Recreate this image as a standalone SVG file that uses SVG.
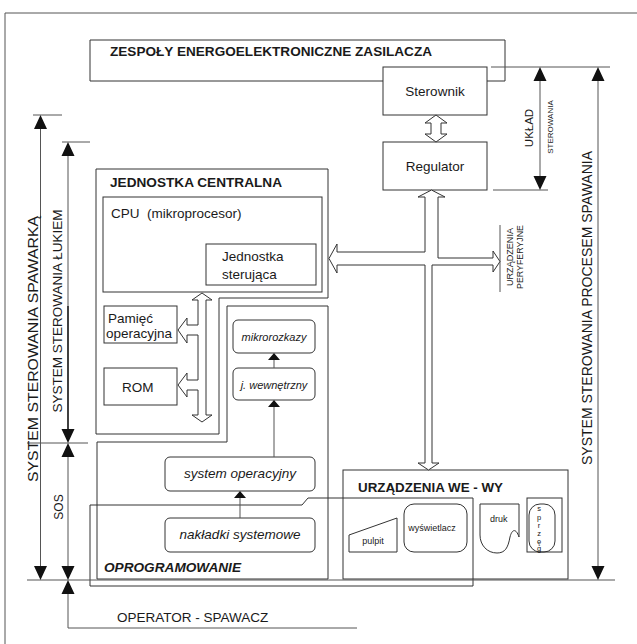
<svg xmlns="http://www.w3.org/2000/svg" width="637" height="644" viewBox="0 0 637 644">
<defs>
<style>
.box{fill:none;stroke:#333;stroke-width:1}
.wbox{fill:#fff;stroke:#333;stroke-width:1}
.ln{fill:none;stroke:#555;stroke-width:1}
.ah{fill:#111;stroke:none}
.hol{fill:#fff;stroke:#333;stroke-width:1;stroke-linejoin:miter}
text{font-family:"Liberation Sans",Arial,Helvetica,sans-serif;fill:#1a1a1a}
.t{font-size:13.5px}
.b{font-weight:bold;font-size:13.5px}
.i{font-style:italic}
.s{font-size:9px}
.xs{font-size:8.5px}
</style>
</defs>
<rect width="637" height="644" fill="#fff"/>
<path class="ln" d="M5,644 V13 H637"/>

<g id="zespoly">
<path class="box" d="M383,81 H90 V40 H505 V81 H487"/>
<text class="b" x="110" y="56" textLength="322" lengthAdjust="spacingAndGlyphs">ZESPOŁY ENERGOELEKTRONICZNE ZASILACZA</text>
</g>
<g id="sterownik">
<rect class="wbox" x="383" y="67" width="104" height="48"/>
<text class="t" x="435" y="96" text-anchor="middle">Sterownik</text>
</g>
<g id="regulator">
<rect class="wbox" x="383" y="142" width="104" height="48"/>
<text class="t" x="435" y="171" text-anchor="middle">Regulator</text>
</g>

<g id="jednostka-centralna">
<path class="box" d="M96,169 H328 V298 H219 V434 H96 Z"/>
<text class="b" x="110" y="187" textLength="172" lengthAdjust="spacingAndGlyphs">JEDNOSTKA CENTRALNA</text>
</g>
<g id="cpu">
<rect class="box" x="103" y="197" width="219" height="95"/>
<text class="t" x="111" y="218" xml:space="preserve">CPU  (mikroprocesor)</text>
</g>
<g id="jednostka-sterujaca">
<rect class="box" x="206" y="244" width="110" height="41"/>
<text class="t" x="222" y="261">Jednostka</text>
<text class="t" x="222" y="279">sterująca</text>
</g>
<g id="pamiec">
<rect class="box" x="104" y="306" width="73" height="37"/>
<text class="t" x="108" y="323">Pamięć</text>
<text class="t" x="106" y="338">operacyjna</text>
</g>
<g id="rom">
<rect class="box" x="104" y="368" width="73" height="37"/>
<text class="t" x="122" y="392">ROM</text>
</g>

<g id="oprogramowanie">
<path class="box" d="M97,442 H227 V306 H328 V579 H97 Z"/>
<text class="b i" x="104" y="572" textLength="137" lengthAdjust="spacingAndGlyphs">OPROGRAMOWANIE</text>
</g>
<g id="mikrorozkazy">
<rect class="box" x="233" y="320" width="82" height="33" rx="5"/>
<text class="i" x="274" y="341" text-anchor="middle" font-size="11">mikrorozkazy</text>
</g>
<g id="j-wewnetrzny">
<rect class="box" x="233" y="368" width="82" height="32" rx="5"/>
<text class="i" x="274" y="389" text-anchor="middle" font-size="11">j. wewnętrzny</text>
</g>
<g id="system-operacyjny">
<rect class="box" x="165" y="457" width="150" height="34" rx="5"/>
<text class="t i" x="240" y="478" text-anchor="middle">system operacyjny</text>
</g>
<g id="nakladki">
<rect class="box" x="165" y="518" width="150" height="34" rx="5"/>
<text class="t i" x="240" y="539" text-anchor="middle">nakładki systemowe</text>
</g>

<g id="urzadzenia-we-wy">
<rect class="box" x="343" y="470" width="225" height="109"/>
<text class="b" x="358" y="492" textLength="145" lengthAdjust="spacingAndGlyphs">URZĄDZENIA WE - WY</text>
</g>
<g id="pulpit">
<path class="box" d="M349,535 L397,518 V552 H349 Z"/>
<text class="s" x="373" y="544" text-anchor="middle">pulpit</text>
</g>
<g id="wyswietlacz">
<rect class="box" x="404" y="504" width="63" height="48" rx="10"/>
<text class="s" x="432" y="531" text-anchor="middle">wyświetlacz</text>
</g>
<g id="druk">
<path class="box" d="M480,504 H519 V537 C516,528 512,529 510,537 C508,548 505,553 497,553 C487,553 480,545 480,535 Z"/>
<text class="s" x="490" y="522">druk</text>
</g>
<g id="sprzeg">
<rect class="box" x="527" y="498" width="35" height="54"/>
<rect class="box" x="529" y="504" width="26" height="48" rx="11"/>
<text font-size="7.5" text-anchor="middle"><tspan x="539" y="511">s</tspan><tspan x="539" y="519.5">p</tspan><tspan x="539" y="527.5">r</tspan><tspan x="539" y="535.5">z</tspan><tspan x="539" y="543.5">ę</tspan><tspan x="539" y="551">g</tspan></text>
</g>

<g id="connectors">
<path class="box" d="M90,586 V505 H302 L308,498 H473 V586 Z"/>
<path class="hol" d="M436,115 L447,123 L441,123 L441,134 L447,134 L436,142 L425,134 L431,134 L431,123 L425,123 Z"/>
<path class="hol" d="M431.5,190 L445,197 L438,197 L438,258 L493,258 L493,251 L500,261.5 L493,272 L493,265 L432,265 L432,463 L439,463 L428.5,470 L418,463 L425,463 L425,265 L337,265 L337,273 L329,258.5 L337,244 L337,252 L425,252 L425,197 L418,197 Z"/>
<path class="hol" d="M202,293 L212,300 L206,300 L206,415 L212,415 L202,422 L192,415 L198,415 L198,390 L187,390 L187,397 L178,385 L187,373 L187,380 L198,380 L198,335 L187,335 L187,343 L178,330 L187,318 L187,325 L198,325 L198,300 L192,300 Z"/>
<path class="ln" d="M274,457 V407 M274,368 V360 M240,518 V498"/>
<path class="ah" d="M274,400 L280,407 L268,407 Z M274,353 L280,360 L268,360 Z M240,491 L246,498 L234,498 Z"/>
<path class="ln" d="M500,225 V292"/>
<path class="ln" d="M491,67 H610 M493,190 H548 M33,115 H62 M62,142 H90 M27,443 H88 M27,580 H615"/>
<path class="ln" d="M540,81 V176 M598,81 V566 M40.5,129 V566 M68,156 V306 M68,457 V566 M68,594 V628 H357"/>
<path fill="none" stroke="#111" stroke-width="1.6" d="M68,306 V429"/>
<path class="ah" d="M540,67 L546.5,81 L533.5,81 Z M540,190 L546.5,176 L533.5,176 Z M598,67 L604.5,81 L591.5,81 Z M598,580 L604.5,566 L591.5,566 Z M40.5,115 L47,129 L34,129 Z M40.5,580 L47,566 L34,566 Z M68,142 L74.5,156 L61.5,156 Z M68,443 L74.5,429 L61.5,429 Z M68,443 L74.5,457 L61.5,457 Z M68,580 L74.5,566 L61.5,566 Z M68,580 L74.5,594 L61.5,594 Z"/>
</g>

<g id="labels">
<text font-size="11.5" transform="translate(533,128) rotate(-90)" text-anchor="middle">UKŁAD</text>
<text font-size="8" transform="translate(553,127) rotate(-90)" text-anchor="middle">STEROWANIA</text>
<text class="xs" transform="translate(513,257) rotate(-90)" text-anchor="middle" textLength="58" lengthAdjust="spacingAndGlyphs">URZĄDZENIA</text>
<text class="xs" transform="translate(523,257) rotate(-90)" text-anchor="middle" textLength="64" lengthAdjust="spacingAndGlyphs">PERYFERYJNE</text>
<text font-size="14" transform="translate(592,308) rotate(-90)" text-anchor="middle">SYSTEM STEROWANIA PROCESEM SPAWANIA</text>
<text font-size="14.5" transform="translate(38,349) rotate(-90)" text-anchor="middle" textLength="266" lengthAdjust="spacingAndGlyphs">SYSTEM STEROWANIA SPAWARKĄ</text>
<text font-size="13.5" transform="translate(62,311) rotate(-90)" text-anchor="middle">SYSTEM STEROWANIA ŁUKIEM</text>
<text font-size="12" transform="translate(63,507) rotate(-90)" text-anchor="middle">SOS</text>
<text class="t" x="117" y="622">OPERATOR - SPAWACZ</text>
</g>
</svg>
